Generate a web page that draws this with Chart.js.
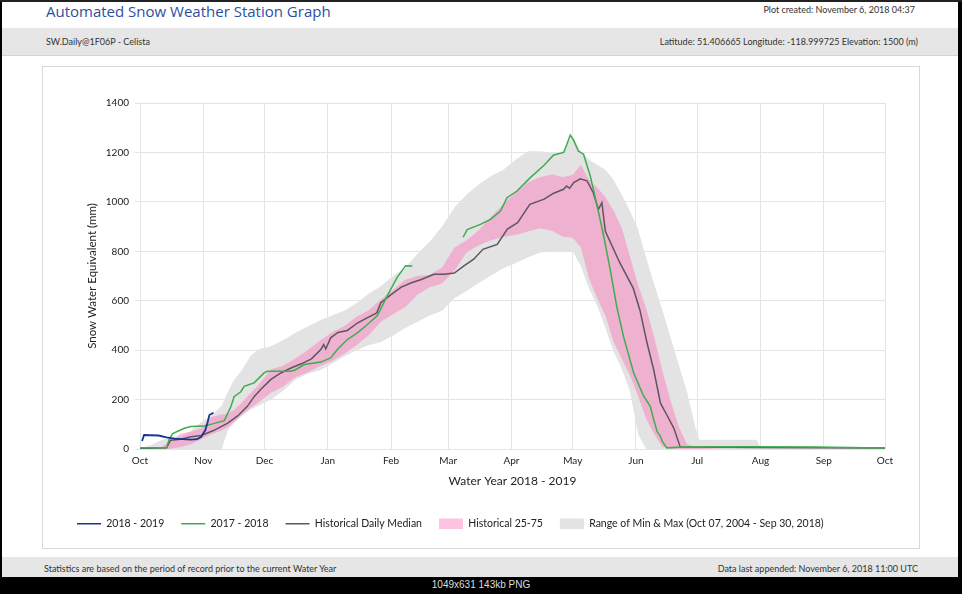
<!DOCTYPE html>
<html>
<head>
<meta charset="utf-8">
<script src="https://cdn.jsdelivr.net/npm/chart.js@4.4.1/dist/chart.umd.min.js"></script>
<style>
    body { margin: 0; width: 962px; height: 594px; position: relative; overflow: hidden; background: #fff; font-family: Lato, sans-serif; }
    .abs { position: absolute; white-space: nowrap; }
    #title { left: 46px; top: 0px; font-family: "Open Sans", sans-serif; font-size: 15px; color: #2c4fa3; line-height: 22px; }
    #created { right: 47px; top: 4px; font-size: 9px; color: #333; }
    #band { left: 0; top: 28px; width: 962px; height: 27px; background: #e6e6e6; border-bottom: 1px solid #d3d3d3; }
    #station { left: 46px; top: 36px; font-size: 9px; color: #333; }
    #coords { right: 44px; top: 36px; font-size: 9px; color: #333; }
    #box { left: 42px; top: 66px; width: 876px; height: 481px; border: 1px solid #d8d8d8; }
    #graph { position: absolute; left: 0; top: 0; width: 876px; height: 481px; }
    #foot { left: 0; top: 557px; width: 962px; height: 20px; background: #e6e6e6; }
    #stats { left: 44px; top: 563px; font-size: 9px; color: #333; }
    #appended { right: 44px; top: 563px; font-size: 9px; color: #333; }
    #black { left: 0; top: 577px; width: 962px; height: 17px; background: #000; }
    #size { left: 0; top: 579px; width: 962px; text-align: center; font-size: 10px; color: #ddd; font-family: "Liberation Sans", sans-serif; }
    #lb { left: 0; top: 0; width: 2px; height: 594px; background: #000; }
    #rb { left: 958px; top: 0; width: 4px; height: 594px; background: #000; }
    #tb { left: 0; top: 0; width: 962px; height: 2px; background: #222; }
</style>
</head>
<body>
<div class="abs" id="band"></div>
<div class="abs" id="title">Automated Snow Weather Station Graph</div>
<div class="abs" id="created">Plot created: November 6, 2018 04:37</div>
<div class="abs" id="station">SW.Daily@1F06P - Celista</div>
<div class="abs" id="coords">Latitude: 51.406665 Longitude: -118.999725 Elevation: 1500 (m)</div>
<div class="abs" id="box"><div id="graph"><canvas id="myChart"></canvas></div></div>
<div class="abs" id="foot"></div>
<div class="abs" id="stats">Statistics are based on the period of record prior to the current Water Year</div>
<div class="abs" id="appended">Data last appended: November 6, 2018 11:00 UTC</div>
<div class="abs" id="black"></div>
<div class="abs" id="size">1049x631 143kb PNG</div>
<div class="abs" id="lb"></div>
<div class="abs" id="rb"></div>
<div class="abs" id="tb"></div>

<script>
// x axis = day of the water year (0 = Oct 1)
var monthDays = [0, 31, 61, 92, 123, 151, 182, 212, 243, 273, 304, 335, 365];
var monthLabels = ["Oct", "Nov", "Dec", "Jan", "Feb", "Mar", "Apr", "May", "Jun", "Jul", "Aug", "Sep", "Oct"];

// 2018 - 2019
var days1819 = [1, 2, 5, 9, 13, 17, 21, 25, 28, 30, 32, 33, 34, 36];
var swe1819 = [33, 57, 56, 55, 47, 42, 40, 38, 40, 50, 77, 105, 138, 147];

// 2017 - 2018 (null = missing data)
var days1718 = [0, 13, 14.3, 16, 21.7, 25, 31.5, 36.4, 41.3, 44.5, 46.1, 49.4, 51, 55.9, 60.8, 62.4, 73.9, 76, 80.4, 88.6, 93.4,
    96.7, 101.6, 106.5, 111.4, 116.3, 121.1, 126, 130.1, 133.4, 145,
    158.3, 160.3, 166.8, 171.7, 176.6, 179.8, 184.7, 191.2, 197.7, 202.7, 207.6, 209.2, 210.8, 212.4, 214.8, 217.3, 220.6,
    223.8, 227.1, 230.4, 233.6, 236.9, 241.8, 246.7, 250, 251.6, 253.3, 254.8, 256, 258.1, 266, 299, 331, 364];
var swe1718 = [5, 5, 40, 63, 84, 91, 93, 104, 115, 171, 212, 232, 254, 268, 308, 315, 315, 320, 342, 352, 369,
    403, 443, 470, 504, 540, 620, 695, 742, 741, null,
    857, 888, 909, 929, 963, 1017, 1044, 1098, 1146, 1190, 1200, 1234, 1270, 1250, 1205, 1193, 1105,
    990, 865, 725, 575, 455, 310, 215, 173, 122, 72, 54, 30, 5, 8, 10, 8, 4];

// Historical daily median
var medDays = [0, 13, 15, 20, 25, 30, 36, 43, 48, 52.6, 56, 59, 64, 69, 74, 79, 84, 88.6, 90, 91, 93.4, 97, 101.6, 106.5,
    111, 116, 118, 123, 128, 133, 137.5, 144, 149, 154, 158.7, 163.5, 168, 175, 180, 185, 191, 198, 202.7, 207.5,
    209, 210.5, 212.5, 215.7, 219, 222, 224.6, 226.3, 228, 235, 241.7, 245, 248.4, 251.7, 255, 258, 261.5, 264.7, 300, 365];
var medSWE = [3, 5, 36, 40, 50, 55, 75, 105, 135, 173, 213, 240, 281, 308, 328, 345, 365, 403, 423, 405, 450, 472, 480, 510,
    530, 551, 592, 625, 655, 673, 685, 707, 707, 712, 741, 768, 808, 828, 890, 916, 990, 1011, 1035, 1051,
    1064, 1055, 1078, 1093, 1085, 1038, 970, 997, 881, 755, 650, 560, 430, 320, 186, 140, 85, 8, 6, 4];

// Bands: percentiles and min/max share one day list
var bandDays = [0, 5, 10, 14, 20, 25, 30, 35, 40, 43, 46, 50, 54, 58, 64, 70, 76, 82, 88, 94, 100, 106, 112, 118, 124, 130,
    136, 142, 148, 154, 160, 166, 172, 178, 184, 190, 196, 202, 207, 212, 216, 220, 224, 228, 232, 236, 240, 244, 248,
    252, 256, 260, 264, 268, 272, 274, 290, 302, 304, 335, 365];
var sweMax = [3, 15, 35, 45, 50, 75, 110, 135, 175, 230, 280, 320, 376, 403, 416, 440, 470, 495, 520, 540, 560, 590, 628, 659,
    700, 735, 790, 840, 900, 976, 1030, 1070, 1105, 1130, 1170, 1205, 1205, 1200, 1205, 1268, 1205, 1170, 1150, 1130,
    1090, 1030, 963, 890, 773, 665, 560, 450, 340, 231, 90, 38, 38, 38, 8, 6, 5];
var sweMin = [0, 0, 0, 0, 0, 0, 0, 0, 0, 75, 105, 135, 159, 175, 200, 235, 280, 305, 318, 345, 375, 400, 420, 433,
    460, 490, 515, 540, 560, 610, 640, 672, 702, 732, 752, 775, 795, 800, 800, 800, 740, 650, 580, 490,
    395, 325, 235, 60, 0, 0, 0, 0, 0, 0, 0, 0, 0, 0, 0, 0, 0];
var sweP75 = [0, 3, 5, 30, 63, 70, 85, 130, 140, 143, 158, 190, 225, 258, 322, 337, 365, 400, 437, 473, 497, 535, 562, 605,
    645, 685, 700, 705, 735, 814, 845, 885, 940, 990, 1040, 1078, 1100, 1112, 1100, 1110, 1150, 1090, 1058, 1020,
    965, 895, 780, 665, 570, 450, 315, 195, 90, 20, 8, 5, 0, 0, 0, 0, 0];
var sweP25 = [0, 0, 0, 0, 8, 20, 40, 60, 75, 88, 110, 140, 165, 188, 227, 252, 290, 310, 335, 355, 385, 420, 460, 515,
    545, 575, 625, 655, 670, 720, 795, 825, 845, 858, 866, 880, 893, 882, 860, 855, 815, 690, 610, 540,
    434, 365, 300, 215, 122, 60, 8, 0, 0, 0, 0, 0, 0, 0, 0, 0, 0];

var pink = "rgba(255, 105, 180, 0.4)";
var grey = "#e3e3e3";

function pts(xs, ys) {
    return xs.map(function (x, i) {
        return {x: x, y: ys[i]};
    });
}

var ctx = document.getElementById('myChart').getContext('2d');

var chart = new Chart(ctx, {
    type: 'line',
    data: {
        datasets: [
            {label: "2018 - 2019", data: pts(days1819, swe1819), borderColor: "#17368e", borderWidth: 1.8,
                legendStyle: 'line', fill: false},
            {label: "2017 - 2018", data: pts(days1718, swe1718), borderColor: "#3dad4e", borderWidth: 1.5,
                legendStyle: 'line', fill: false, spanGaps: false},
            {label: "Historical Daily Median", data: pts(medDays, medSWE), borderColor: "#5d5660", borderWidth: 1.5,
                legendStyle: 'line', fill: false},
            {label: "Historical 25-75", data: pts(bandDays, sweP75), borderWidth: 0, borderColor: pink,
                backgroundColor: pink, legendStyle: 'rect', fill: '+1'},
            {label: "", data: pts(bandDays, sweP25), borderWidth: 0, fill: false},
            {label: "Range of Min & Max (Oct 07, 2004 - Sep 30, 2018)", data: pts(bandDays, sweMax), borderWidth: 0,
                borderColor: grey, backgroundColor: grey, legendStyle: 'rect', fill: '+1'},
            {label: "", data: pts(bandDays, sweMin), borderWidth: 0, fill: false}
        ]
    },
    options: {
        responsive: true,
        maintainAspectRatio: false,
        animation: false,
        elements: {point: {radius: 0}, line: {tension: 0}},
        layout: {padding: {left: 17, right: 34, top: 36, bottom: 9}},
        plugins: {
            tooltip: {enabled: false},
            legend: {
                position: 'bottom',
                align: 'start',
                labels: {
                    usePointStyle: true,
                    pointStyleWidth: 24,
                    boxHeight: 13,
                    padding: 17,
                    color: '#222',
                    font: {family: 'Lato', size: 10.5},
                    generateLabels: function (chart) {
                        var out = [];
                        chart.data.datasets.forEach(function (ds, i) {
                            if (!ds.label) return;
                            out.push({
                                text: ds.label,
                                datasetIndex: i,
                                pointStyle: ds.legendStyle,
                                fillStyle: ds.legendStyle === 'rect' ? ds.backgroundColor : ds.borderColor,
                                strokeStyle: ds.borderColor,
                                lineWidth: ds.legendStyle === 'rect' ? 0 : 1.5,
                                fontColor: '#222',
                                hidden: false
                            });
                        });
                        return out;
                    }
                }
            }
        },
        scales: {
            x: {
                type: 'linear',
                min: 0,
                max: 365,
                afterBuildTicks: function (scale) {
                    scale.ticks = monthDays.map(function (d) {
                        return {value: d};
                    });
                },
                ticks: {
                    autoSkip: false,
                    maxRotation: 0,
                    padding: 6,
                    color: '#222',
                    font: {family: 'Lato', size: 10},
                    callback: function (v, i) {
                        return monthLabels[i];
                    }
                },
                grid: {color: '#e4e4e4', drawTicks: false},
                border: {display: false},
                title: {display: true, text: 'Water Year 2018 - 2019', color: '#222',
                    font: {family: 'Lato', size: 12}, padding: {top: 1, bottom: 13}}
            },
            y: {
                min: 0,
                max: 1400,
                ticks: {
                    stepSize: 200, padding: 6, color: '#222', font: {family: 'Lato', size: 10},
                    callback: function (v) {
                        return String(v);
                    }
                },
                grid: {color: '#e4e4e4', tickLength: 5},
                border: {display: false},
                title: {display: true, text: 'Snow Water Equivalent (mm)', color: '#222',
                    font: {family: 'Lato', size: 11.5}, padding: {top: 25, bottom: 1}}
            }
        }
    }
});
</script>
</body>
</html>
